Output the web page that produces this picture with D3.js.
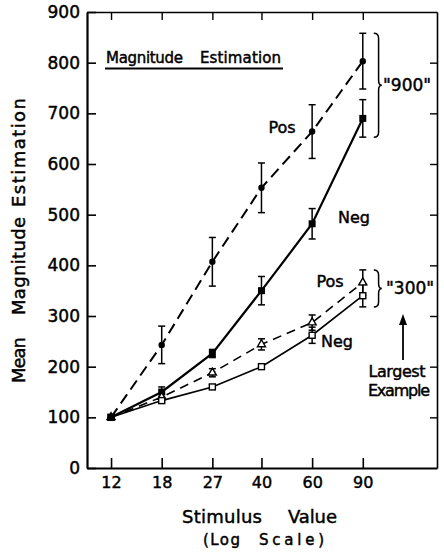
<!DOCTYPE html>
<html>
<head>
<meta charset="utf-8">
<script src="https://cdn.jsdelivr.net/npm/d3@7"></script>
<style>
  html, body { margin: 0; padding: 0; background: #fff; }
  svg { display: block; }
  text { font-family: "DejaVu Sans", sans-serif; fill: #000; stroke: #000; stroke-width: 0.45px; }
</style>
</head>
<body>
<svg id="chart" width="444" height="552"></svg>
<script>
// Stimulus values (log-spaced) and tick labels
const stimulus = [12, 18, 27, 40, 60, 90];
const yTicks = [0, 100, 200, 300, 400, 500, 600, 700, 800, 900];

// Mean magnitude estimates and error-bar half-lengths
const pos900 = [100, 243, 407, 553, 664, 803];
const pos900Err = [0, 37, 48, 49, 53, 55];
const neg900 = [100, 150, 226, 350, 482, 690];
const neg900Err = [0, 10, 8, 28, 30, 37];
const pos300 = [100, 140, 188, 244, 287, 366];
const pos300Err = [0, 6, 8, 11, 15, 25];
const neg300 = [100, 133, 160, 200, 262, 340];
const neg300Err = [0, 4, 4, 5, 16, 22];

const svg = d3.select("#chart");

const x = d3.scaleLog().domain([9.9, 163]).range([87, 437]);
const y = d3.scaleLinear().domain([0, 900]).range([468, 12]);

// ---- frame and axes (ticks point inward on all four sides) ----
const axisB = svg.append("g").attr("transform", `translate(0,${y(0)})`)
  .call(d3.axisBottom(x).tickValues(stimulus).tickFormat(d3.format("d"))
    .tickSizeInner(-10).tickSizeOuter(0).tickPadding(9));
const axisL = svg.append("g").attr("transform", `translate(${x.range()[0]},0)`)
  .call(d3.axisLeft(y).tickValues(yTicks).tickSizeInner(-9).tickSizeOuter(0).tickPadding(7));
const axisT = svg.append("g").attr("transform", `translate(0,${y(900)})`)
  .call(d3.axisTop(x).tickValues(stimulus).tickFormat("").tickSizeInner(-8).tickSizeOuter(0));
const axisR = svg.append("g").attr("transform", `translate(${x.range()[1]},0)`)
  .call(d3.axisRight(y).tickValues(yTicks.slice(1, -1)).tickFormat("").tickSizeInner(-7).tickSizeOuter(0));

[axisB, axisL].forEach(g => {
  g.select(".domain").attr("stroke", "#000").attr("stroke-width", 2.2);
  g.selectAll(".tick line").attr("stroke", "#000").attr("stroke-width", 1.6);
});
[axisT, axisR].forEach(g => {
  g.select(".domain").attr("stroke", "#000").attr("stroke-width", 1.6);
  g.selectAll(".tick line").attr("stroke", "#000").attr("stroke-width", 1.4);
});
axisB.selectAll(".tick text").attr("font-size", 16).attr("font-family", "DejaVu Sans");
axisL.selectAll(".tick text").attr("font-size", 17).attr("font-family", "DejaVu Sans");

// words laid out one by one so the wide gaps between them are kept
function words(parent, list, size) {
  list.forEach(w => {
    parent.append("text")
      .attr("x", w.x).attr("y", w.y)
      .attr("font-size", size)
      .attr("textLength", w.len).attr("lengthAdjust", "spacing")
      .text(w.t);
  });
}

// ---- axis titles ----
words(svg, [
  { t: "Stimulus", x: 182, y: 523, len: 80 },
  { t: "Value", x: 288, y: 523, len: 49 }
], 18);
words(svg, [
  { t: "(Log", x: 203, y: 545, len: 37 },
  { t: "Scale)", x: 259, y: 545, len: 65 }
], 15);
const yTitle = svg.append("g").attr("transform", "translate(25,0) rotate(-90)");
words(yTitle, [
  { t: "Mean", x: -383, y: 0, len: 46 },
  { t: "Magnitude", x: -315, y: 0, len: 98 },
  { t: "Estimation", x: -207, y: 0, len: 109 }
], 18);

// ---- panel title, underlined ----
words(svg, [
  { t: "Magnitude", x: 106, y: 63, len: 77 },
  { t: "Estimation", x: 200, y: 63, len: 81 }
], 15);
svg.append("line")
  .attr("x1", 105).attr("x2", 283).attr("y1", 68.5).attr("y2", 68.5)
  .attr("stroke", "#000").attr("stroke-width", 2);

// ---- series ----
const series = [
  { values: pos900, err: pos900Err, dash: "11,6", width: 2, marker: "dot" },
  { values: neg900, err: neg900Err, dash: null, width: 2.2, marker: "fillsq" },
  { values: pos300, err: pos300Err, dash: "9,6", width: 1.6, marker: "tri" },
  { values: neg300, err: neg300Err, dash: null, width: 1.6, marker: "opensq" }
];

const line = d3.line().x((d, i) => x(stimulus[i])).y(d => y(d));

series.forEach(s => {
  svg.append("path")
    .datum(s.values)
    .attr("d", line)
    .attr("fill", "none")
    .attr("stroke", "#000")
    .attr("stroke-width", s.width)
    .attr("stroke-dasharray", s.dash);
});

// error bars with caps
series.forEach(s => {
  const g = svg.append("g").attr("stroke", "#000").attr("stroke-width", 1.5);
  s.values.forEach((v, i) => {
    if (!s.err[i]) return;
    const cx = x(stimulus[i]);
    const y1 = y(v + s.err[i]), y2 = y(v - s.err[i]);
    g.append("line").attr("x1", cx).attr("x2", cx).attr("y1", y1).attr("y2", y2);
    g.append("line").attr("x1", cx - 3.5).attr("x2", cx + 3.5).attr("y1", y1).attr("y2", y1);
    g.append("line").attr("x1", cx - 3.5).attr("x2", cx + 3.5).attr("y1", y2).attr("y2", y2);
  });
});

// markers
series.forEach(s => {
  const g = svg.append("g");
  s.values.forEach((v, i) => {
    const cx = x(stimulus[i]), cy = y(v);
    if (s.marker === "dot") {
      g.append("circle").attr("cx", cx).attr("cy", cy).attr("r", 3.2).attr("fill", "#000");
    } else if (s.marker === "fillsq") {
      g.append("rect").attr("x", cx - 3.5).attr("y", cy - 3.5).attr("width", 7).attr("height", 7).attr("fill", "#000");
    } else if (s.marker === "tri") {
      const p = d3.symbol(d3.symbolTriangle, 28)();
      g.append("path").attr("d", p).attr("transform", `translate(${cx},${cy})`)
        .attr("fill", i === 0 ? "#000" : "#fff").attr("stroke", "#000").attr("stroke-width", 1.4);
    } else {
      g.append("rect").attr("x", cx - 3).attr("y", cy - 3).attr("width", 6).attr("height", 6)
        .attr("fill", i === 0 ? "#000" : "#fff").attr("stroke", "#000").attr("stroke-width", 1.4);
    }
  });
});

// ---- series labels ----
const labels = [
  { t: "Pos", x: 282, y: 133 },
  { t: "Neg", x: 354, y: 223 },
  { t: "Pos", x: 330, y: 287 },
  { t: "Neg", x: 337, y: 347 }
];
svg.selectAll("text.lab").data(labels).join("text")
  .attr("class", "lab")
  .attr("x", d => d.x).attr("y", d => d.y)
  .attr("text-anchor", "middle").attr("font-size", 16)
  .text(d => d.t);

// ---- braces grouping the largest-example conditions ----
function bracePath(bx, y0, y1, w) {
  const ym = (y0 + y1) / 2;
  const h = 5;
  return `M${bx},${y0} Q${bx + w * 0.6},${y0} ${bx + w * 0.6},${y0 + h}` +
    ` L${bx + w * 0.6},${ym - h} Q${bx + w * 0.6},${ym} ${bx + w},${ym}` +
    ` Q${bx + w * 0.6},${ym} ${bx + w * 0.6},${ym + h}` +
    ` L${bx + w * 0.6},${y1 - h} Q${bx + w * 0.6},${y1} ${bx},${y1}`;
}
const last = stimulus.length - 1;
const bx = x(stimulus[last]) + 11;
const braces = [
  { y0: y(pos900[last] + pos900Err[last]), y1: y(neg900[last] - neg900Err[last]), t: "\"900\"", tx: 383 },
  { y0: y(pos300[last] + pos300Err[last]), y1: y(neg300[last] - neg300Err[last]), t: "\"300\"", tx: 386 }
];
braces.forEach(b => {
  svg.append("path").attr("d", bracePath(bx, b.y0, b.y1, 8))
    .attr("fill", "none").attr("stroke", "#000").attr("stroke-width", 1.5);
  svg.append("text")
    .attr("x", b.tx).attr("y", (b.y0 + b.y1) / 2 + 6)
    .attr("font-size", 17)
    .text(b.t);
});

// ---- "Largest Example" arrow ----
svg.append("line")
  .attr("x1", 403).attr("x2", 403).attr("y1", 360).attr("y2", 322)
  .attr("stroke", "#000").attr("stroke-width", 1.8);
svg.append("path")
  .attr("d", "M403,314 L399,325 L407,325 Z").attr("fill", "#000");
svg.append("text").attr("x", 397).attr("y", 377).attr("text-anchor", "middle")
  .attr("font-size", 16).attr("textLength", 57).attr("lengthAdjust", "spacing").text("Largest");
svg.append("text").attr("x", 399).attr("y", 396).attr("text-anchor", "middle")
  .attr("font-size", 16).attr("textLength", 62).attr("lengthAdjust", "spacing").text("Example");
</script>
</body>
</html>
